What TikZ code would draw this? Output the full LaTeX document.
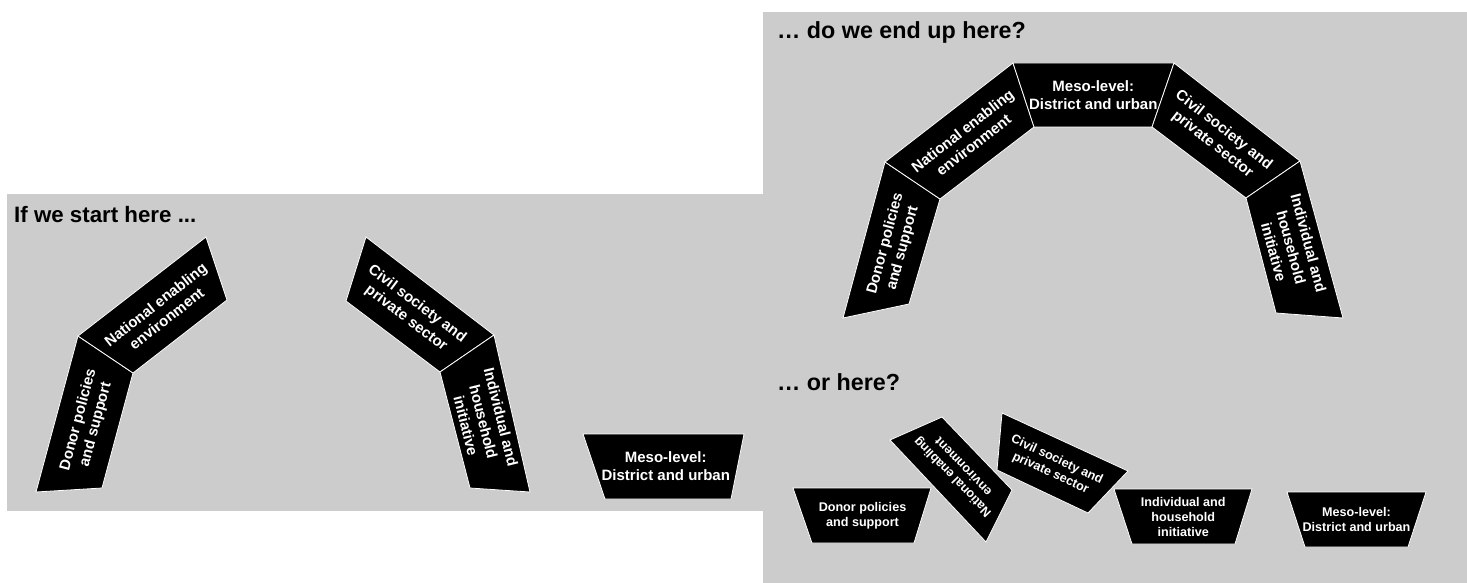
\documentclass[tikz,border=0pt]{standalone}
\usepackage{fontspec}
\setmainfont{Liberation Sans}
\definecolor{panelgray}{RGB}{204,204,204}
\begin{document}
\begin{tikzpicture}[x=1pt,y=-1pt,
  panel/.style={fill=panelgray, draw=none},
  blk/.style={fill=black, draw=white, line width=0.8pt, line join=miter},
  lbl/.style={text=white, align=center, font=\bfseries\fontsize{15}{18}\selectfont, inner sep=0pt},
  lbls/.style={text=white, align=center, font=\bfseries\fontsize{12.6}{15}\selectfont, inner sep=0pt},
  ttl/.style={anchor=base west, font=\bfseries\fontsize{22.3}{26}\selectfont, inner sep=0pt},
  ttlr/.style={anchor=base west, font=\bfseries\fontsize{23.3}{27}\selectfont, inner sep=0pt}]
\useasboundingbox (0,0) rectangle (1467,583);
% panels
\fill[panelgray] (7,194) rectangle (763,511);
\fill[panelgray] (763,12) rectangle (1467,583);
% titles
\node[ttl] (t1) at (14,222) {If we start here ...};
\node[ttlr] (t2) at (777,39) {… do we end up here?};
\node[ttlr] (t3) at (777,390) {… or here?};
% ---- left panel ----
\draw[blk] (78,336) -- (133,373) -- (102,488) -- (36,492) -- cycle;
\draw[blk] (78,336) -- (206,237) -- (227,300) -- (133,373) -- cycle;
\draw[blk] (366,237) -- (494,335) -- (440,372) -- (346,301) -- cycle;
\draw[blk] (494,335) -- (530,492) -- (470,488) -- (440,372) -- cycle;
\draw[blk] (583,434) -- (744,434) -- (731,499) -- (605,499) -- cycle;
\node[lbl, rotate=75] (ld) at (87.25,422.25) {Donor policies\\and support};
\node[lbl, rotate=38] (ln) at (161,311.5) {National enabling\\environment};
\node[lbl, rotate=-37] (lc) at (411.5,311.25) {Civil society and\\private sector};
\node[lbl, rotate=-76] (li) at (483.5,421.75) {Individual and\\household\\initiative};
\node[lbl] (lm) at (665.75,466.5) {Meso-level:\\District and urban};
% ---- right top ----
\draw[blk] (885,162) -- (940,199) -- (909,304) -- (843,318) -- cycle;
\draw[blk] (885,162) -- (1013,63) -- (1034,127) -- (940,199) -- cycle;
\draw[blk] (1013,63) -- (1174,63) -- (1152,127) -- (1034,127) -- cycle;
\draw[blk] (1174,63) -- (1300,161) -- (1246,198) -- (1152,127) -- cycle;
\draw[blk] (1300,161) -- (1343,318) -- (1276,313) -- (1246,198) -- cycle;
\node[lbl, rotate=75] (rd) at (894.25,245.75) {Donor policies\\and support};
\node[lbl, rotate=38] (rn) at (968,137.75) {National enabling\\environment};
\node[lbl] (rm) at (1093.25,95) {Meso-level:\\District and urban};
\node[lbl, rotate=-38] (rc) at (1218,137.25) {Civil society and\\private sector};
\node[lbl, rotate=-75] (ri) at (1291.25,247.5) {Individual and\\household\\initiative};
% ---- right bottom ----
\draw[blk] (793,488) -- (931,488) -- (914,543) -- (812,543) -- cycle;
\draw[blk] (890,440) -- (942,417) -- (1012,490) -- (986,542) -- cycle;
\draw[blk] (1002,413) -- (1128,471) -- (1088,513) -- (997,470) -- cycle;
\draw[blk] (1114,489) -- (1252,489) -- (1235,544) -- (1132,544) -- cycle;
\draw[blk] (1287,492) -- (1426,492) -- (1408,547) -- (1305,547) -- cycle;
\node[lbls] (bd) at (862.5,515.5) {Donor policies\\and support};
\node[lbls, rotate=134] (bn) at (957.5,472.25) {National enabling\\environment};
\node[lbls, rotate=-25] (bc) at (1053.75,466.75) {Civil society and\\private sector};
\node[lbls] (bi) at (1183.25,516.5) {Individual and\\household\\initiative};
\node[lbls] (bm) at (1356.5,519.5) {Meso-level:\\District and urban};
\end{tikzpicture}
\end{document}
